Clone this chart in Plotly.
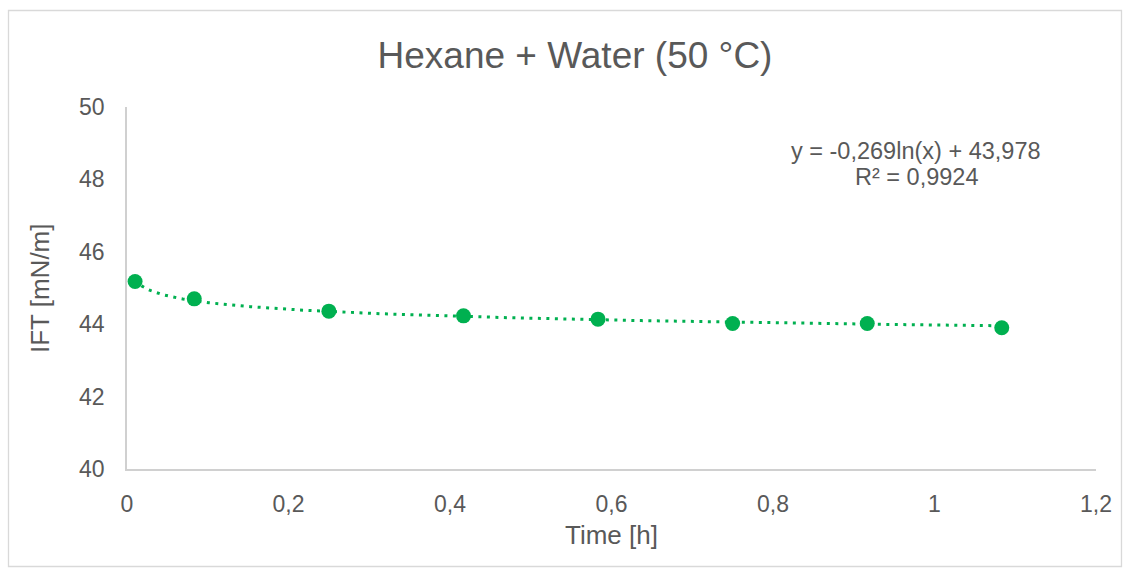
import numpy as np
import plotly.graph_objects as go

# Measured interfacial tension, hexane + water at 50 °C
time_h = [0.01, 0.0833, 0.25, 0.4167, 0.5833, 0.75, 0.9167, 1.0833]
ift_mN_m = [45.18, 44.70, 44.36, 44.23, 44.14, 44.02, 44.02, 43.90]

# Logarithmic trendline coefficients: y = a*ln(x) + b
fit_a = -0.269
fit_b = 43.978
fit_r2 = 0.9924

x_ticks = [0, 0.2, 0.4, 0.6, 0.8, 1.0, 1.2]
x_tick_text = ["0", "0,2", "0,4", "0,6", "0,8", "1", "1,2"]
y_ticks = [40, 42, 44, 46, 48, 50]

GREEN = "#00B050"
TEXT = "#595959"
AXIS = "#D0D0D0"
FONT = "Liberation Sans, Arial, sans-serif"

xs = np.linspace(min(time_h), max(time_h), 400)
ys = fit_a * np.log(xs) + fit_b

fig = go.Figure()
fig.add_trace(go.Scatter(
    x=xs, y=ys, mode="lines",
    line=dict(color=GREEN, width=3, dash="3px,5.5px"),
    hoverinfo="skip", showlegend=False,
))
fig.add_trace(go.Scatter(
    x=time_h, y=ift_mN_m, mode="markers",
    marker=dict(color=GREEN, size=15, line=dict(width=0)),
    showlegend=False,
))

def fmt(v, nd):
    return f"{v:.{nd}f}".replace(".", ",")

eq_line = f"y = {fmt(fit_a, 3)}ln(x) + {fmt(fit_b, 3)}"
r2_line = f"R² = {fmt(fit_r2, 4)}"

L, R, T, B = 127, 35, 107, 106
W, H = 1131, 575
pw, ph = W - L - R, H - T - B

def px_x(p):
    return (p - L) / pw

def px_y(p):
    return (H - B - p) / ph

annotations = [
    dict(text=eq_line, x=px_x(916), y=px_y(151), xref="paper", yref="paper",
         xanchor="center", yanchor="middle", showarrow=False,
         font=dict(size=23.5, color=TEXT, family=FONT)),
    dict(text=r2_line, x=px_x(916), y=px_y(177), xref="paper", yref="paper",
         xanchor="center", yanchor="middle", showarrow=False,
         font=dict(size=23.5, color=TEXT, family=FONT)),
    dict(text="Time [h]", x=0.5, y=px_y(535), xref="paper", yref="paper",
         xanchor="center", yanchor="middle", showarrow=False,
         font=dict(size=26, color=TEXT, family=FONT)),
    dict(text="IFT [mN/m]", x=px_x(40), y=0.5, xref="paper", yref="paper",
         xanchor="center", yanchor="middle", showarrow=False, textangle=-90,
         font=dict(size=26, color=TEXT, family=FONT)),
]

fig.update_layout(
    width=W, height=H,
    margin=dict(l=L, r=R, t=T, b=B),
    paper_bgcolor="white", plot_bgcolor="white",
    font=dict(family=FONT, color=TEXT),
    title=dict(text="Hexane + Water (50 °C)", x=575 / W, y=1 - 55 / H,
               xanchor="center", yanchor="middle",
               font=dict(size=37, color=TEXT, family=FONT)),
    annotations=annotations,
    shapes=[dict(type="rect", xref="paper", yref="paper",
                 x0=px_x(8.5), x1=px_x(1121.5), y0=px_y(566.5), y1=px_y(10.5),
                 line=dict(color="#D9D9D9", width=1.3), fillcolor="rgba(0,0,0,0)",
                 layer="below")],
)
fig.update_xaxes(
    range=[0, 1.2], tickvals=x_ticks, ticktext=x_tick_text,
    showgrid=False, zeroline=False, showline=True, linecolor=AXIS, linewidth=1.5,
    ticks="", ticklabelstandoff=14,
    tickfont=dict(size=23, color=TEXT, family=FONT),
)
fig.update_yaxes(
    range=[40, 50], tickvals=y_ticks,
    showgrid=False, zeroline=False, showline=True, linecolor=AXIS, linewidth=1.5,
    ticks="", ticklabelstandoff=16,
    tickfont=dict(size=23, color=TEXT, family=FONT),
)

fig.write_html("out.html")
